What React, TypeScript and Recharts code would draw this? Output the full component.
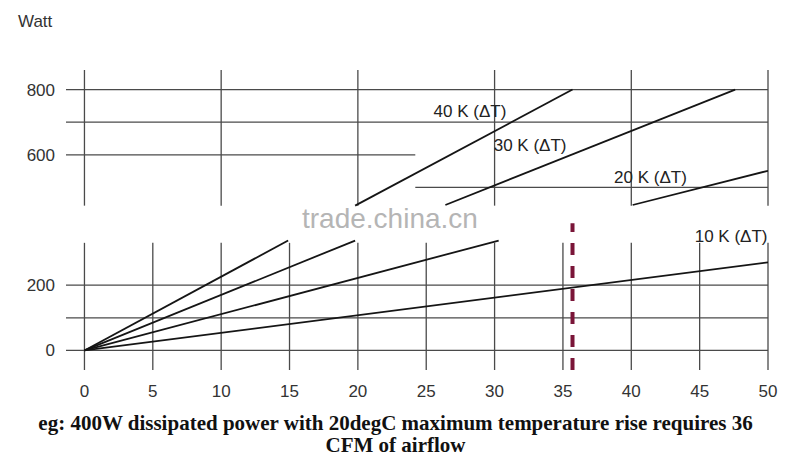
import { LineChart, Line, XAxis, YAxis, ReferenceLine, ReferenceDot } from 'recharts';

// airflow (CFM) vs dissipated power (Watt), one line per temperature rise
const line40K = [[0, 0], [14.9, 337]];
const line40KUpper = [[19.8, 444], [35.7, 800]];
const line30K = [[0, 0], [19.8, 337]];
const line30KUpper = [[26.4, 446], [47.6, 800]];
const line20K = [[0, 0], [30.3, 337]];
const line20KUpper = [[40.1, 446], [50, 551]];
const line10K = [[0, 0], [50, 270]];

const xTicks = [0, 5, 10, 15, 20, 25, 30, 35, 40, 45, 50];
const yTicks = [0, 200, 600, 800];

const gridFullY = [0, 100, 200, 700, 800];
const gridLowerX = [0, 5, 10, 15, 20, 25, 30, 35, 40, 45, 50];
const gridUpperX = [0, 10, 20, 30, 40, 50];

const labels = [
  { text: '40 K (ΔT)', cfm: 28.2, watt: 732 },
  { text: '30 K (ΔT)', cfm: 32.6, watt: 628 },
  { text: '20 K (ΔT)', cfm: 41.4, watt: 530 },
  { text: '10 K (ΔT)', cfm: 47.3, watt: 349 },
];

const exampleCfm = 35.7;

const X_MIN = -1.35;
const Y_MIN = -60;
const Y_MAX = 860;
const LOWER_TOP = 330;
const UPPER_BOTTOM = 444;
const SPLIT_X = 24.2;

const toRows = (pts: number[][]) => pts.map(([cfm, watt]) => ({ cfm, watt }));

const gridColor = '#4a4a4a';
const lineColor = '#151515';
const font = 'Arial, "Liberation Sans", sans-serif';

export default function App() {
  const segments = [line40K, line40KUpper, line30K, line30KUpper, line20K, line20KUpper, line10K];

  return (
    <div style={{ position: 'absolute', left: 0, top: 0, width: 800, height: 467, background: '#fff' }}>
      <div
        style={{
          position: 'absolute',
          left: 18,
          top: 12,
          fontFamily: font,
          fontSize: 17,
          color: '#333',
        }}
      >
        Watt
      </div>

      <LineChart width={800} height={467} margin={{ top: 70, right: 32, bottom: 67, left: 0 }}>
        <XAxis
          type="number"
          dataKey="cfm"
          domain={[X_MIN, 50]}
          allowDataOverflow
          ticks={xTicks}
          axisLine={false}
          tickLine={false}
          tickSize={0}
          tickMargin={15}
          height={30}
          tick={{ fontSize: 17, fill: '#333', fontFamily: font }}
        />
        <YAxis
          type="number"
          domain={[Y_MIN, Y_MAX]}
          allowDataOverflow
          ticks={yTicks}
          axisLine={false}
          tickLine={false}
          tickSize={0}
          tickMargin={11}
          width={66}
          tick={{ fontSize: 17, fill: '#333', fontFamily: font }}
        />

        {gridFullY.map((y) => (
          <ReferenceLine key={'h' + y} segment={[{ x: X_MIN, y }, { x: 50, y }]} stroke={gridColor} strokeWidth={1.3} />
        ))}
        <ReferenceLine segment={[{ x: X_MIN, y: 600 }, { x: SPLIT_X, y: 600 }]} stroke={gridColor} strokeWidth={1.3} />
        <ReferenceLine segment={[{ x: SPLIT_X, y: 500 }, { x: 50, y: 500 }]} stroke={gridColor} strokeWidth={1.3} />
        {gridLowerX.map((x) => (
          <ReferenceLine key={'vl' + x} segment={[{ x, y: Y_MIN }, { x, y: LOWER_TOP }]} stroke={gridColor} strokeWidth={1.3} />
        ))}
        {gridUpperX.map((x) => (
          <ReferenceLine key={'vu' + x} segment={[{ x, y: UPPER_BOTTOM }, { x, y: Y_MAX }]} stroke={gridColor} strokeWidth={1.3} />
        ))}

        {segments.map((seg, i) => (
          <Line
            key={i}
            data={toRows(seg)}
            dataKey="watt"
            type="linear"
            stroke={lineColor}
            strokeWidth={1.8}
            dot={false}
            activeDot={false}
            isAnimationActive={false}
          />
        ))}

        <ReferenceLine
          segment={[{ x: exampleCfm, y: Y_MIN }, { x: exampleCfm, y: 390 }]}
          stroke="#7a1538"
          strokeWidth={4}
          strokeDasharray="12 11"
        />

        {labels.map((l) => (
          <ReferenceDot
            key={l.text}
            x={l.cfm}
            y={l.watt}
            r={0}
            shape={(p: any) => (
              <text
                x={p.cx}
                y={p.cy}
                textAnchor="middle"
                dominantBaseline="central"
                fontSize={17}
                fontFamily={font}
                fill="#222"
              >
                {l.text}
              </text>
            )}
          />
        ))}
      </LineChart>

      <div
        style={{
          position: 'absolute',
          left: 302,
          top: 203,
          fontFamily: font,
          fontSize: 28,
          color: '#b5b5b5',
        }}
      >
        trade.china.cn
      </div>

      <div
        style={{
          position: 'absolute',
          left: 0,
          top: 412,
          width: 791,
          textAlign: 'center',
          fontFamily: '"Liberation Serif", "Times New Roman", serif',
          fontWeight: 'bold',
          fontSize: 21,
          lineHeight: '22px',
          color: '#111',
        }}
      >
        eg: 400W dissipated power with 20degC maximum temperature rise requires 36
        <br />
        CFM of airflow
      </div>
    </div>
  );
}
